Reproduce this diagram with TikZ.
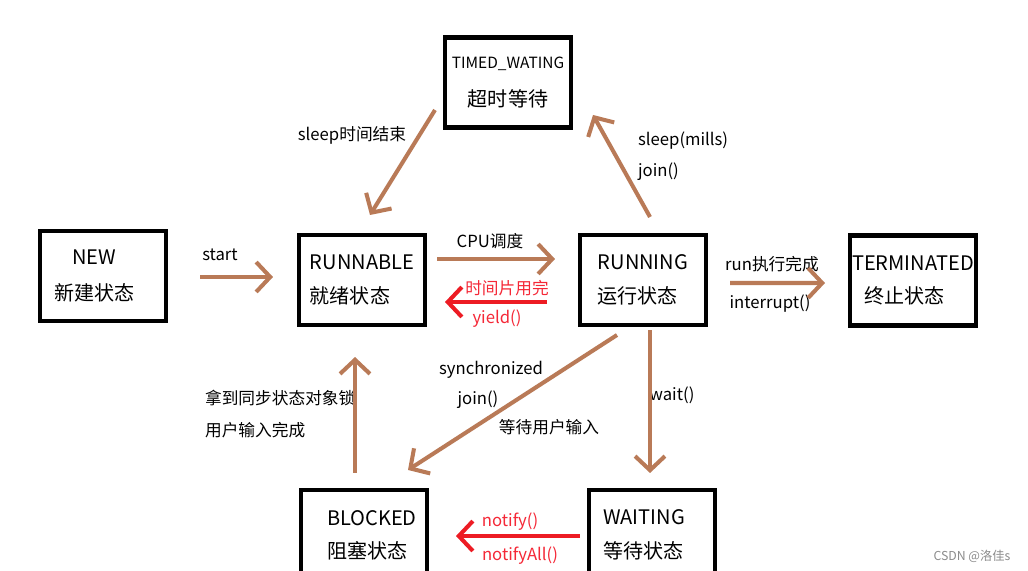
\documentclass[tikz,border=0pt]{standalone}
\usepackage{fontspec}
\setmainfont{Noto Sans CJK SC}
\usetikzlibrary{arrows.meta}
\definecolor{paintbrown}{RGB}{185,122,87}
\definecolor{paintred}{RGB}{237,28,36}
\definecolor{lblred}{RGB}{245,40,55}

\begin{document}
\begin{tikzpicture}[x=0.02cm, y=-0.02cm]
			\path[use as bounding box, clip] (0,0) rectangle (1028,571);
			\fill[white] (0,0) rectangle (1028,571);
			\begin{scope}
			\tikzstyle{every node}=[inner sep=1pt]
			\tikzstyle{statebox}=[draw, line width=2.3pt, minimum width=2.52cm, minimum height=1.8cm, font=\fontsize{11.4}{19}\selectfont]
			\tikzstyle{lbl}=[font=\fontsize{9.5}{11}\selectfont]
			\tikzstyle{redlbl}=[lbl, text=lblred]
			\tikzstyle{arr}=[draw=paintbrown, line width=2.3pt, -{Straight Barb[length=8pt, width=17pt]}]
			\tikzstyle{redarr}=[arr, draw=paintred]
				\node[statebox, align=center] (new) at (103, 276) {NEW\kern10pt\\[1pt]新建状态\kern10pt};
				\node[statebox, align=left] (runnable) at (362, 280) {RUNNABLE\\就绪状态};
				\node[statebox, align=left] (running) at (643, 280) {RUNNING\\运行状态};
				\node[statebox, align=center] (terminated) at (913, 280.5) {TERMINATED\\终止状态\kern10pt};
				\node[statebox, align=center] (timed) at (508, 82.5) {{\fontsize{8.8}{19}\selectfont TIMED\_WATING}\\[3pt]超时等待};
				\node[statebox, align=left] (blocked) at (364, 535) {\kern9pt BLOCKED\\\kern9pt 阻塞状态};
				\node[statebox, align=left] (waiting) at (652, 535) {WAITING\kern9pt\\等待状态};

				\node[lbl] (startlbl) at (220, 255) {start};
				\node[lbl] (cpulbl) at (490, 241) {CPU调度};
				\node[redlbl] (slicelbl) at (507, 288) {时间片用完};
				\node[redlbl] (yieldlbl) at (497, 319) {yield()};
				\node[lbl] (runlbl) at (772, 264) {run执行完成};
				\node[lbl] (intlbl) at (770, 304) {interrupt()};
				\node[lbl] (wakelbl) at (352, 135) {sleep时间结束};
				\node[lbl, anchor=west] (sleeplbl) at (636, 141) {sleep(mills)};
				\node[lbl, anchor=west] (joinlbl) at (636, 172) {join()};
				\node[lbl] (synclbl) at (491, 370) {synchronized};
				\node[lbl] (joinblbl) at (478, 400) {join()};
				\node[lbl] (inputlbl) at (549, 427) {等待用户输入};
				\node[lbl] (waitlbl) at (672, 395) {wait()};
				\node[lbl, anchor=west] (locklbl) at (203, 398) {拿到同步状态对象锁};
				\node[lbl, anchor=west] (donelbl) at (203, 430) {用户输入完成};
				\node[redlbl] (notifylbl) at (510, 522) {notify()};
				\node[redlbl] (notifyalllbl) at (520, 556) {notifyAll()};
				\node[font=\fontsize{7}{8}\selectfont, text=black!45] (mark) at (972, 556) {CSDN @洛佳s};

				\draw[arr] ([shift={(32,1)}]new.east) to ([shift={(-24,-3)}]runnable.west);
				\draw[arr] ([shift={(10,-21)}]runnable.east) to ([shift={(-23,-21)}]running.west);
				\draw[redarr] ([shift={(-31,22)}]running.west) to ([shift={(18,22)}]runnable.east);
				\draw[arr] ([shift={(22,3)}]running.east) to ([shift={(-23,2.5)}]terminated.west);
				\draw[arr] ([shift={(-8,27.5)}]timed.west) to ([shift={(8,-18)}]runnable.north);
				\draw[arr] ([shift={(7,-16)}]running.north) to ([shift={(20,32.5)}]timed.east);
				\draw[arr] ([shift={(-26,8)}]running.south) to ([shift={(44,-18)}]blocked.north);
				\draw[arr] ([shift={(7,3)}]running.south) to ([shift={(-2,-15)}]waiting.north);
				\draw[arr] ([shift={(-9,-15)}]blocked.north) to ([shift={(-7,30)}]runnable.south);
				\draw[redarr] ([shift={(-7,1)}]waiting.west) to ([shift={(27,1)}]blocked.east);
			\end{scope}
\end{tikzpicture}
\end{document}
